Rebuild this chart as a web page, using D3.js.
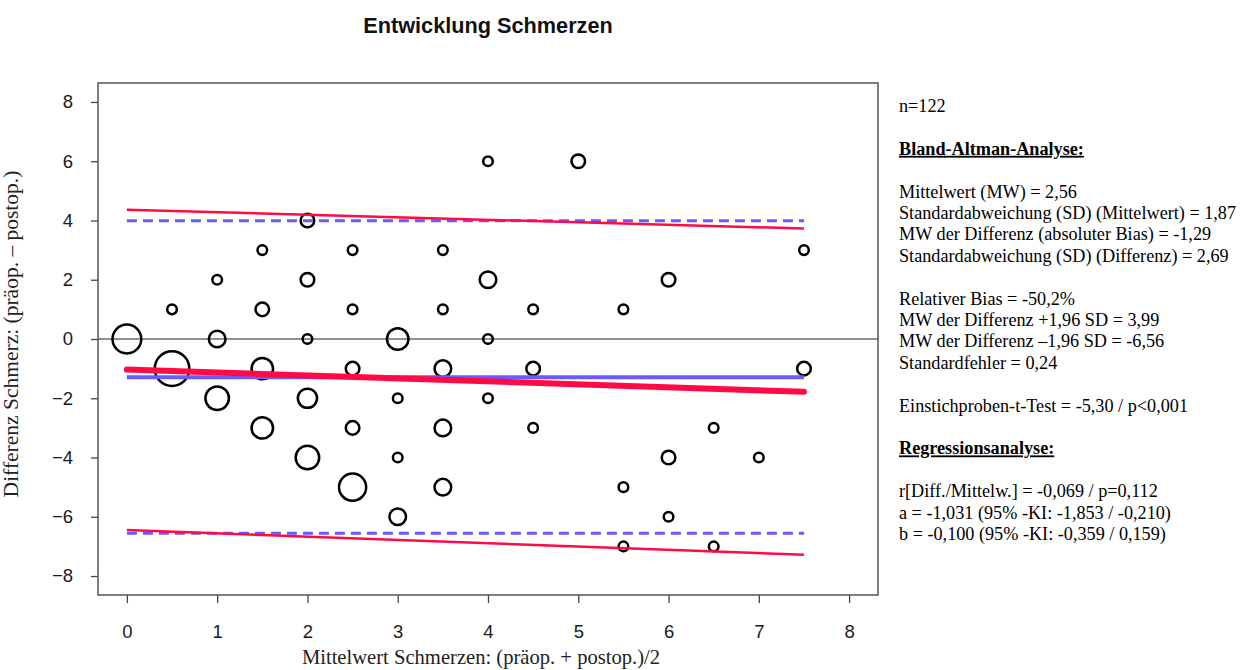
<!DOCTYPE html>
<html>
<head>
<meta charset="utf-8">
<script src="https://cdn.jsdelivr.net/npm/d3@7"></script>
<style>
  html, body { margin: 0; padding: 0; background: #fff; }
  svg { display: block; }
</style>
</head>
<body>
<svg id="chart" width="1258" height="670"></svg>
<script>
// Bland-Altman points: mean of pre/post score, difference, number of patients at that spot
const pointMeans  = [0, 0.5, 0.5, 1, 1, 1, 1.5, 1.5, 1.5, 1.5, 2, 2, 2, 2, 2, 2.5, 2.5, 2.5, 2.5, 2.5,
                     3, 3, 3, 3, 3.5, 3.5, 3.5, 3.5, 3.5, 4, 4, 4, 4, 4.5, 4.5, 4.5, 5, 5.5, 5.5, 5.5,
                     6, 6, 6, 6.5, 6.5, 7, 7.5, 7.5];
const pointDiffs  = [0, 1, -1, 2, 0, -2, 3, 1, -1, -3, 4, 2, 0, -2, -4, 3, 1, -1, -3, -5,
                     0, -2, -4, -6, 3, 1, -1, -3, -5, 6, 2, 0, -2, 1, -1, -3, 6, 1, -5, -7,
                     2, -4, -6, -3, -7, -4, 3, -1];
const pointCounts = [9, 1, 13, 1, 3, 6, 1, 2, 5, 5, 2, 2, 1, 4, 6, 1, 1, 2, 2, 8,
                     5, 1, 1, 3, 1, 1, 3, 3, 3, 1, 3, 1, 1, 1, 2, 1, 2, 1, 1, 1,
                     2, 2, 1, 1, 1, 1, 1, 2];

// Reference lines (x from 0 to 7.5)
const lineExtent = [0, 7.5];
const meanDiff = -1.29;          // absolute bias
const limitsOfAgreement = [3.99, -6.56];
const regA = -1.031, regB = -0.100;
const regUpperLimit = [4.36, 3.73];   // values at x = 0 and x = 7.5
const regLowerLimit = [-6.45, -7.28];

const xTicks = [0, 1, 2, 3, 4, 5, 6, 7, 8];
const yTicks = [-8, -6, -4, -2, 0, 2, 4, 6, 8];

const chartTitle = "Entwicklung Schmerzen";
const xTitle = "Mittelwert Schmerzen: (präop. + postop.)/2";
const yTitle = "Differenz Schmerz: (präop. \u2013 postop.)";

// Statistics panel: [text, isHeading]; empty string = blank line
const statLines = [
  ["n=122", false],
  ["", false],
  ["Bland-Altman-Analyse:", true],
  ["", false],
  ["Mittelwert (MW) = 2,56", false],
  ["Standardabweichung (SD) (Mittelwert) = 1,87", false],
  ["MW der Differenz (absoluter Bias) = -1,29", false],
  ["Standardabweichung (SD) (Differenz) = 2,69", false],
  ["", false],
  ["Relativer Bias = -50,2%", false],
  ["MW der Differenz +1,96 SD = 3,99", false],
  ["MW der Differenz \u20131,96 SD = -6,56", false],
  ["Standardfehler = 0,24", false],
  ["", false],
  ["Einstichproben-t-Test = -5,30 / p<0,001", false],
  ["", false],
  ["Regressionsanalyse:", true],
  ["", false],
  ["r[Diff./Mittelw.] = -0,069 / p=0,112", false],
  ["a = -1,031 (95% -KI: -1,853 / -0,210)", false],
  ["b = -0,100 (95% -KI: -0,359 / 0,159)", false]
];

const svg = d3.select("#chart");
const box = { left: 98, right: 878, top: 83, bottom: 595 };

const x = d3.scaleLinear().domain([-0.32, 8.32]).range([box.left, box.right]);
const y = d3.scaleLinear().domain([-8.64, 8.64]).range([box.bottom, box.top]);
const r = d3.scaleSqrt().domain([0, 1]).range([0, 4.8]);

const RED = "#ff0a47";
const BLUE = "#6a5aff";
const sans = "'Liberation Sans', Arial, sans-serif";
const serif = "'Liberation Serif', 'Times New Roman', serif";

// Title
svg.append("text")
  .attr("x", (box.left + box.right) / 2).attr("y", 33)
  .attr("text-anchor", "middle")
  .attr("font-family", sans).attr("font-weight", "bold")
  .attr("font-size", 21.7)
  .attr("fill", "#111")
  .text(chartTitle);

// Axes
const yAxis = d3.axisLeft(y).tickValues(yTicks).tickSize(7).tickPadding(18);
const xAxis = d3.axisBottom(x).tickValues(xTicks).tickSize(8).tickPadding(22);

const gy = svg.append("g").attr("transform", `translate(${box.left},0)`).call(yAxis);
const gx = svg.append("g").attr("transform", `translate(0,${box.bottom})`).call(xAxis);
[gx, gy].forEach(g => {
  g.select(".domain").remove();
  g.selectAll(".tick line").attr("stroke", "#444").attr("stroke-width", 1.3);
  g.selectAll(".tick text").attr("font-family", sans).attr("font-size", 18.5).attr("fill", "#1a1a1a");
});

// Zero line
svg.append("line")
  .attr("x1", box.left).attr("x2", box.right)
  .attr("y1", y(0)).attr("y2", y(0))
  .attr("stroke", "#222").attr("stroke-width", 1.2);

// Points
svg.append("g").selectAll("circle")
  .data(pointMeans.map((m, i) => ({ m, d: pointDiffs[i], c: pointCounts[i] })))
  .join("circle")
  .attr("cx", p => x(p.m))
  .attr("cy", p => y(p.d))
  .attr("r", p => r(p.c))
  .attr("fill", "none")
  .attr("stroke", "#000")
  .attr("stroke-width", 2.5);

// Bias and limits of agreement (blue)
svg.append("line")
  .attr("x1", x(lineExtent[0])).attr("x2", x(lineExtent[1]))
  .attr("y1", y(meanDiff)).attr("y2", y(meanDiff))
  .attr("stroke", BLUE).attr("stroke-width", 4);

limitsOfAgreement.forEach(v => {
  svg.append("line")
    .attr("x1", x(lineExtent[0])).attr("x2", x(lineExtent[1]))
    .attr("y1", y(v)).attr("y2", y(v))
    .attr("stroke", BLUE).attr("stroke-width", 3)
    .attr("stroke-dasharray", "10,6");
});

// Regression line and its limits (red)
svg.append("line")
  .attr("x1", x(lineExtent[0])).attr("x2", x(lineExtent[1]))
  .attr("y1", y(regA + regB * lineExtent[0])).attr("y2", y(regA + regB * lineExtent[1]))
  .attr("stroke", RED).attr("stroke-width", 6).attr("stroke-linecap", "round");

[regUpperLimit, regLowerLimit].forEach(vals => {
  svg.append("line")
    .attr("x1", x(lineExtent[0])).attr("x2", x(lineExtent[1]))
    .attr("y1", y(vals[0])).attr("y2", y(vals[1]))
    .attr("stroke", RED).attr("stroke-width", 2.5);
});

// Plot frame
svg.append("rect")
  .attr("x", box.left).attr("y", box.top)
  .attr("width", box.right - box.left).attr("height", box.bottom - box.top)
  .attr("fill", "none").attr("stroke", "#555").attr("stroke-width", 1.5);

// Axis titles
svg.append("text")
  .attr("x", 481).attr("y", 664)
  .attr("text-anchor", "middle")
  .attr("font-family", serif).attr("font-size", 20.6).attr("fill", "#222")
  .text(xTitle);

svg.append("text")
  .attr("transform", "translate(18,334) rotate(-90)")
  .attr("text-anchor", "middle")
  .attr("font-family", serif).attr("font-size", 21.5).attr("fill", "#222")
  .text(yTitle);

// Statistics panel
const panel = svg.append("g").attr("font-family", serif).attr("font-size", 18.2).attr("fill", "#000");
statLines.forEach(([txt, heading], i) => {
  if (!txt) return;
  panel.append("text")
    .attr("x", 899).attr("y", 112 + i * 21.4)
    .attr("font-weight", heading ? "bold" : "normal")
    .attr("text-decoration", heading ? "underline" : null)
    .text(txt);
});
</script>
</body>
</html>
